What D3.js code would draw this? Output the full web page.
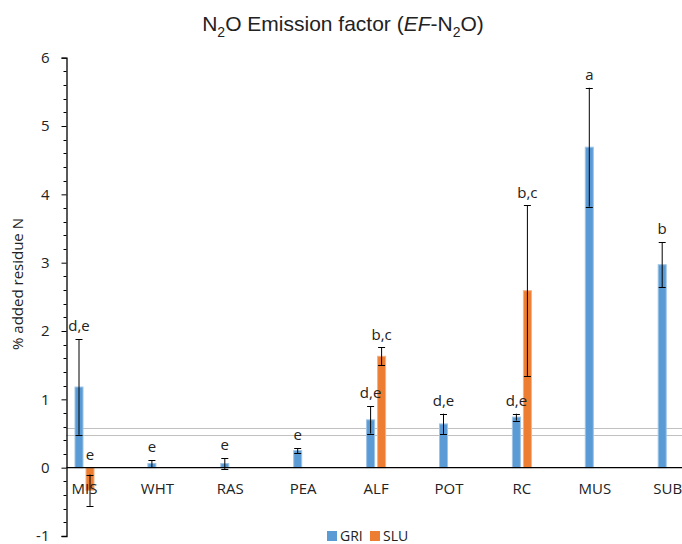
<!DOCTYPE html>
<html>
<head>
<meta charset="utf-8">
<script src="https://cdn.jsdelivr.net/npm/d3@7"></script>
<style>
  body { margin: 0; background: #fff; }
  text { font-family: "Open Sans", sans-serif; fill: #222; }
</style>
</head>
<body>
<svg id="chart"></svg>
<script>
// Chart values
const categories = ["MIS", "WHT", "RAS", "PEA", "ALF", "POT", "RC", "MUS", "SUB"]
const seriesNames = ["GRI", "SLU"]
const griValues = [1.18, 0.06, 0.06, 0.25, 0.70, 0.64, 0.74, 4.69, 2.97]
const griErrors = [0.70, 0.05, 0.08, 0.035, 0.20, 0.15, 0.05, 0.87, 0.33]
const griLetters = ["d,e", "e", "e", "e", "d,e", "d,e", "d,e", "a", "b"]
const sluValues = [-0.33, null, null, null, 1.63, null, 2.59, null, null]
const sluErrors = [0.23, null, null, null, 0.13, null, 1.25, null, null]
const sluLetters = ["e", null, null, null, "b,c", null, "b,c", null, null]
const referenceLines = [0.475, 0.58]
const yTicks = [-1, 0, 1, 2, 3, 4, 5, 6]

const colors = { GRI: "#5B9BD5", SLU: "#ED7D31" }
const borders = { GRI: "#9DC3E6", SLU: "#F4B183" }

const width = 682
const height = 544
const svg = d3.select("#chart")
  .attr("width", width)
  .attr("height", height)

const axisX = 66.5
const snap = v => Math.round(v) + 0.5 // crisp 1px lines

const x = d3.scalePoint()
  .domain(categories)
  .range([84.5, 667.7])

const xSub = d3.scaleBand()
  .domain(seriesNames)
  .range([-9.5, 9.5])
  .paddingInner(3 / 11)

const y = d3.scaleLinear()
  .domain([-1, 6])
  .range([536, 57.7])

// Flatten the two series into one list of bars
const bars = []
categories.forEach((c, i) => {
  bars.push({ cat: c, series: "GRI", value: griValues[i], err: griErrors[i], letter: griLetters[i] })
  if (sluValues[i] !== null)
    bars.push({ cat: c, series: "SLU", value: sluValues[i], err: sluErrors[i], letter: sluLetters[i] })
})

// Title with subscripts
const title = svg.append("text")
  .attr("x", 343)
  .attr("y", 31)
  .attr("text-anchor", "middle")
  .style("font-family", "'Liberation Sans', Arial, sans-serif")
  .style("font-size", "21px")
title.append("tspan").text("N")
title.append("tspan").attr("dy", 6).style("font-size", "14px").text("2")
title.append("tspan").attr("dy", -6).text("O Emission factor (")
title.append("tspan").style("font-style", "italic").text("EF")
title.append("tspan").text("-N")
title.append("tspan").attr("dy", 6).style("font-size", "14px").text("2")
title.append("tspan").attr("dy", -6).text("O)")

// Dotted reference lines
svg.append("g")
  .selectAll("line")
  .data(referenceLines)
  .join("line")
    .attr("x1", axisX)
    .attr("x2", width)
    .attr("y1", d => snap(y(d)))
    .attr("y2", d => snap(y(d)))
    .attr("stroke", "#808080")
    .attr("stroke-width", 1)
    .attr("stroke-dasharray", "1,1")

// Bars
svg.append("g")
  .selectAll("rect")
  .data(bars)
  .join("rect")
    .attr("x", d => x(d.cat) + xSub(d.series))
    .attr("width", xSub.bandwidth())
    .attr("y", d => y(Math.max(0, d.value)))
    .attr("height", d => Math.abs(y(d.value) - y(0)))
    .attr("fill", d => colors[d.series])
    .attr("stroke", d => borders[d.series])
    .attr("stroke-width", 1)

// Zero line drawn over bars
svg.append("line")
  .attr("x1", axisX)
  .attr("x2", width)
  .attr("y1", y(0))
  .attr("y2", y(0))
  .attr("stroke", "#000")
  .attr("stroke-width", 1.3)

// Error bars
const errG = svg.append("g")
  .selectAll("g")
  .data(bars)
  .join("g")
  .attr("transform", d => `translate(${x(d.cat) + xSub(d.series) + xSub.bandwidth() / 2},0)`)
errG.append("line")
  .attr("y1", d => y(d.value + d.err))
  .attr("y2", d => y(d.value - d.err))
  .attr("stroke", "#000")
errG.selectAll(".cap")
  .data(d => [d.value + d.err, d.value - d.err])
  .join("line")
    .attr("class", "cap")
    .attr("x1", -3.5)
    .attr("x2", 3.5)
    .attr("y1", v => snap(y(v)))
    .attr("y2", v => snap(y(v)))
    .attr("stroke", "#000")

// Significance letters
svg.append("g")
  .selectAll("text")
  .data(bars)
  .join("text")
    .attr("x", d => x(d.cat) + xSub(d.series) + xSub.bandwidth() / 2)
    .attr("y", d => y(Math.max(0, d.value + d.err)) - 13)
    .attr("dy", "0.35em")
    .attr("text-anchor", "middle")
    .style("font-size", "15px")
    .text(d => d.letter)

// Y axis with minor ticks
const yAxis = svg.append("g")
  .attr("transform", `translate(${axisX},0)`)
  .call(d3.axisLeft(y).tickValues(yTicks).tickFormat(d => String(d)).tickSize(5).tickPadding(12))
yAxis.select(".domain").attr("stroke-width", 1.3)
yAxis.selectAll(".tick text")
  .style("font-family", "'Open Sans', sans-serif")
  .style("font-size", "15px")
  .attr("fill", "#222")
yAxis.append("g")
  .selectAll("line")
  .data(d3.range(-1, 6.001, 0.2).filter(v => Math.abs(v - Math.round(v)) > 0.01))
  .join("line")
    .attr("x1", -3)
    .attr("x2", 0)
    .attr("y1", v => snap(y(v)))
    .attr("y2", v => snap(y(v)))
    .attr("stroke", "#000")

// Category labels
svg.append("g")
  .selectAll("text")
  .data(categories)
  .join("text")
    .attr("x", d => x(d))
    .attr("y", 489)
    .attr("dy", "0.35em")
    .attr("text-anchor", "middle")
    .style("font-size", "15px")
    .text(d => d)

// Y axis title
svg.append("text")
  .attr("transform", `translate(18,284) rotate(-90)`)
  .attr("text-anchor", "middle")
  .attr("dy", "0.35em")
  .style("font-size", "15px")
  .text("% added residue N")

// Legend
const legend = svg.append("g")
  .selectAll("g")
  .data(seriesNames)
  .join("g")
  .attr("transform", (d, i) => `translate(${327 + i * 43},531)`)
legend.append("rect")
  .attr("width", 10)
  .attr("height", 10)
  .attr("fill", d => colors[d])
legend.append("text")
  .attr("x", 13)
  .attr("y", 5)
  .attr("dy", "0.35em")
  .style("font-size", "14px")
  .text(d => d)
</script>
</body>
</html>
